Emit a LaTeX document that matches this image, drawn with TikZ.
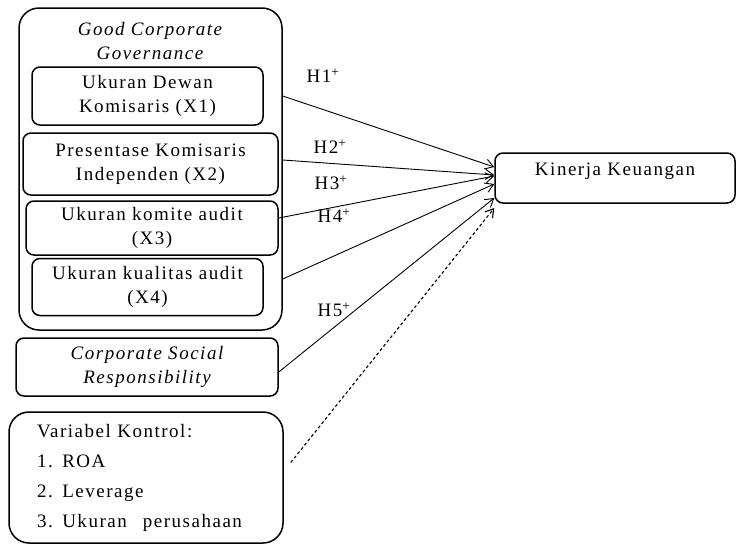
\documentclass[tikz,border=0pt]{standalone}
\usepackage{fontspec}
\setmainfont{Liberation Serif}[LetterSpace=8]
\usetikzlibrary{arrows.meta}

\begin{document}
\begin{tikzpicture}[x = 1pt, y = -1pt,
  font = \fontsize{19}{24}\selectfont,
  box/.style = {draw, line width = 1.5pt, rounded corners = 8pt, align = center},
  hyp/.style = {-{Straight Barb[length = 8pt, width = 10pt]}, line width = 0.9pt}]
\useasboundingbox (0,0) rectangle (736,544);
% independent variables
\node [box, rounded corners = 20pt, minimum width = 263pt, minimum height = 322pt] (gcg) at (150.5,169) {};
\node [align = center, font = \fontsize{19}{24}\selectfont\itshape] (gcgtitle) at (150,41) {Good Corporate\\Governance};
\node [box, minimum width = 231pt, minimum height = 58pt] (x1) at (147.5,96) {Ukuran Dewan\\Komisaris (X1)};
\node [box, minimum width = 255pt, minimum height = 62pt] (x2) at (150.5,164) {Presentase Komisaris\\Independen (X2)};
\node [box, minimum width = 252pt, minimum height = 54pt] (x3) at (152,228) {Ukuran komite audit\\(X3)};
\node [box, minimum width = 231pt, minimum height = 57pt] (x4) at (147.5,287) {Ukuran kualitas audit\\(X4)};
\node [box, minimum width = 262pt, minimum height = 58pt, font = \fontsize{19}{24}\selectfont\itshape] (csr) at (147,367) {Corporate Social\\Responsibility};
% control variables
\node [box, rounded corners = 20pt, minimum width = 274pt, minimum height = 131pt, align = left,
  text width = 218pt, inner xsep = 28pt, font = \fontsize{19}{30}\selectfont] (vk) at (146,477.5)
  {Variabel Kontrol:\\1. ROA\\2. Leverage\\\mbox{3. Ukuran\hspace{16pt}perusahaan}};
% dependent variable
\node [box, minimum width = 240pt, minimum height = 50pt, text depth = 18pt] (kk) at (615,178) {Kinerja Keuangan};
% hypotheses
\draw [hyp] (x1.east -| gcg.east) -- ([yshift = 11pt]kk.west);
\draw [hyp] ([yshift = 4pt]x2.east -| gcg.east) -- ([yshift = 3pt]kk.west);
\draw [hyp] ([yshift = 10pt]x3.east) -- ([yshift = 2pt]kk.west);
\draw [hyp] ([yshift = 8pt]x4.east -| gcg.east) -- ([yshift = -6pt]kk.west);
\draw [hyp] ([yshift = -5pt]csr.east) -- ([yshift = -20pt]kk.west);
\draw [hyp, dash pattern = on 3pt off 2.5pt, line width = 1.1pt] ([xshift = 7pt, yshift = 15pt]vk.east) -- ([yshift = -30pt]kk.west);
\node (h1) at (323,76) {H1\textsuperscript{+}};
\node (h2) at (330,147) {H2\textsuperscript{+}};
\node (h3) at (331,183) {H3\textsuperscript{+}};
\node (h4) at (334,216) {H4\textsuperscript{+}};
\node (h5) at (334,310) {H5\textsuperscript{+}};
\end{tikzpicture}
\end{document}
